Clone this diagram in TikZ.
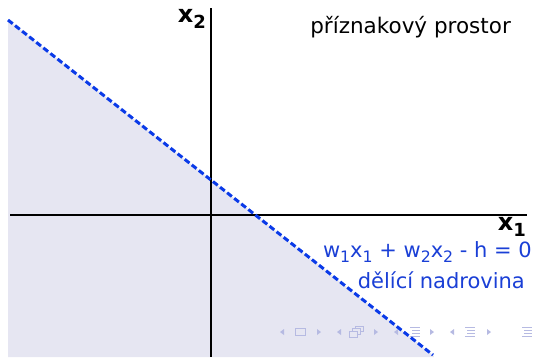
\documentclass[tikz,border=0pt]{standalone}
\usepackage{fontspec}
\setmainfont{DejaVu Sans}
\definecolor{regionfill}{HTML}{E6E6F2}
\definecolor{lineblue}{HTML}{0A3AE8}
\definecolor{txtblue}{HTML}{1A3FD6}
\definecolor{navc}{HTML}{B6BAE2}
\newcommand{\lsub}[1]{\raisebox{-0.4ex}{\scalebox{0.75}{#1}}}
\begin{document}
\begin{tikzpicture}[x=1pt,y=-1pt,
  axis/.style={line width=1.2pt,black},
  sepline/.style={lineblue,line width=3pt,dash pattern=on 6pt off 3pt},
  lbl/.style={inner sep=0pt,font=\fontsize{24}{26}\selectfont},
  bluelbl/.style={inner sep=0pt,text=txtblue,font=\fontsize{21}{24}\selectfont}]
\useasboundingbox (0,0) rectangle (534,357);
\coordinate (A) at (8,20);
\coordinate (B) at (433,355);
\fill[regionfill] (A) -- (B) -- (434,357) -- (8,357) -- cycle;
% axes
\coordinate (xl) at (10,215);
\coordinate (xr) at (527,215);
\coordinate (yt) at (211,8);
\coordinate (yb) at (211,357);
\draw[axis] (xl) -- (xr);
\draw[axis] (yt) -- (yb);
% navigation symbols (faint)
\begin{scope}[navc,line width=1pt]
\fill (280,332) -- (284,329) -- (284,335) -- cycle;
\draw (295,328.5) rectangle (305,335);
\fill (321,332) -- (317,329) -- (317,335) -- cycle;
\fill (337,332) -- (341,329) -- (341,335) -- cycle;
\draw (349,331) rectangle (357,337);
\draw (352,331) -- (352,328.5) -- (360,328.5) -- (360,334) -- (357,334);
\draw (355,328.5) -- (355,326) -- (363,326) -- (363,331) -- (360,331);
\fill (378,332) -- (374,329) -- (374,335) -- cycle;
\fill (394,332) -- (398,329) -- (398,335) -- cycle;
\draw (410,327) -- (420,327) (412,330) -- (420,330) (412,333) -- (420,333) (410,336) -- (420,336);
\fill (434,332) -- (430,329) -- (430,335) -- cycle;
\fill (450,332) -- (454,329) -- (454,335) -- cycle;
\draw (465,327) -- (475,327) (467,330) -- (475,330) (467,333) -- (475,333) (465,336) -- (475,336);
\fill (491,332) -- (487,329) -- (487,335) -- cycle;
\draw (522,327) -- (532,327) (524,330) -- (532,330) (524,333) -- (532,333) (522,336) -- (532,336);
\end{scope}
% separating line
\draw[sepline] (A) -- (B);
% labels
\node[lbl,anchor=east] (x2) at (206,19) {\textbf{x}\lsub{\textbf{2}}};
\node[lbl,anchor=east] (x1) at (526,227) {\textbf{x}\lsub{\textbf{1}}};
\node[inner sep=0pt,anchor=east,font=\fontsize{21.5}{24}\selectfont] (title) at (511,27) {příznakový prostor};
\node[bluelbl,anchor=east] (eq) at (532,252) {w\lsub{1}x\lsub{1} + w\lsub{2}x\lsub{2} - h = 0};
\node[bluelbl,anchor=east] (name) at (525,280) {dělící nadrovina};
\end{tikzpicture}
\end{document}
